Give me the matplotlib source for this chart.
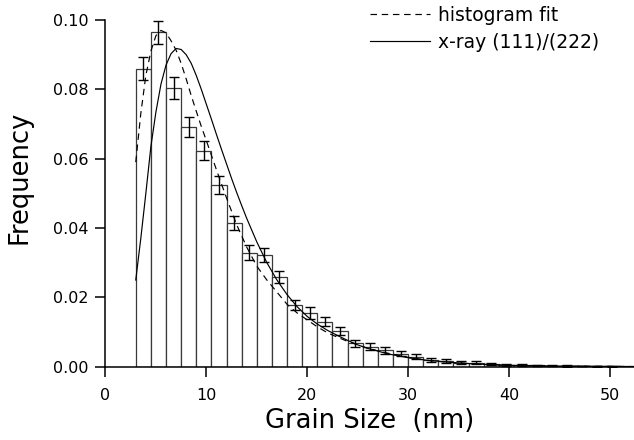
import numpy as np
import matplotlib
matplotlib.use("Agg")
from matplotlib import pyplot as plt

# histogram: bins of 1.5 nm starting at 3 nm
bin_start = 3.0
bin_width = 1.5
freq = [0.0860, 0.0965, 0.0803, 0.0692, 0.0623, 0.0524, 0.0414, 0.0329,
        0.0321, 0.0258, 0.0177, 0.0155, 0.0130, 0.0102, 0.0067, 0.0058,
        0.0048, 0.0037, 0.0029, 0.0019, 0.0017, 0.0012, 0.0011, 0.0008,
        0.0006, 0.0005, 0.0004, 0.0003, 0.0002, 0.0002, 0.0001, 0.0001]
freq_err = [0.0032, 0.0033, 0.0032, 0.0029, 0.0028, 0.0026, 0.0021, 0.0021,
            0.0020, 0.0018, 0.0014, 0.0016, 0.0012, 0.0012, 0.0009, 0.0009,
            0.0010, 0.0007, 0.0007, 0.0005, 0.0005, 0.0004, 0.0004, 0.0003,
            0.0003, 0.0003, 0.0002, 0.0002, 0.0002, 0.0001, 0.0001, 0.0001]

# dashed curve: histogram fit
fit_x = [3.0, 3.25, 3.5, 4.0, 4.5, 5.0, 5.5, 6.0, 6.5, 7.0, 7.5, 8.0, 8.5,
         9.0, 9.5, 10, 10.5, 11, 11.5, 12, 13, 14, 15, 16, 17, 18, 19, 20,
         21, 22, 23, 24, 25, 26, 28, 30, 32, 34, 36, 38, 40, 43, 46, 49, 52.4]
fit_y = [0.059, 0.066, 0.073, 0.084, 0.091, 0.0955, 0.097, 0.0963, 0.094,
         0.0913, 0.0875, 0.083, 0.0782, 0.0737, 0.0693, 0.0652, 0.061,
         0.0568, 0.0527, 0.0487, 0.041, 0.0345, 0.029, 0.025, 0.0215, 0.018,
         0.0155, 0.0135, 0.0115, 0.0098, 0.0085, 0.0073, 0.0063, 0.0053,
         0.0039, 0.0027, 0.0018, 0.0013, 0.0009, 0.0006, 0.0004, 0.00025,
         0.00015, 0.0001, 0.00005]

# solid curve: x-ray (111)/(222)
xray_x = [3.0, 3.5, 4.0, 4.5, 5.0, 5.5, 6.0, 6.5, 7.0, 7.5, 8.0, 8.5, 9.0,
          9.5, 10, 10.5, 11, 11.5, 12, 12.5, 13, 13.5, 14, 15, 16, 17, 18,
          19, 20, 21, 22, 23, 24, 25, 26, 28, 30, 32, 34, 36, 38, 40, 43,
          46, 49, 52.4]
xray_y = [0.025, 0.037, 0.050, 0.0635, 0.0735, 0.0815, 0.087, 0.0903,
          0.0918, 0.0915, 0.0900, 0.0875, 0.0840, 0.0800, 0.0757, 0.0714,
          0.0670, 0.0627, 0.0585, 0.0543, 0.0503, 0.0465, 0.0428, 0.0360,
          0.0300, 0.0250, 0.0208, 0.0173, 0.0145, 0.0123, 0.0105, 0.009,
          0.0076, 0.0063, 0.0053, 0.0037, 0.0026, 0.0018, 0.0013, 0.0009,
          0.0006, 0.0004, 0.00025, 0.00015, 0.0001, 0.00005]

plt.rcParams["font.family"] = ["DejaVu Sans"]

fig = plt.figure(figsize=(6.34, 4.40), dpi=100)
ax = fig.add_axes([0.1664, 0.1666, 0.8336, 0.7879])

centers = bin_start + bin_width * (np.arange(len(freq)) + 0.5)
ax.bar(centers, freq, width=bin_width, color="white", edgecolor="#3a3a3a",
       linewidth=0.9, zorder=1)
ax.plot(fit_x, fit_y, color="black", lw=0.85, dashes=(5.5, 4), zorder=2,
        label="histogram fit")
ax.plot(xray_x, xray_y, color="black", lw=0.85, zorder=2,
        label="x-ray (111)/(222)")
ax.errorbar(centers, freq, yerr=freq_err, fmt="none", ecolor="black",
            elinewidth=1.0, capsize=3.6, capthick=1.0, zorder=3)

ax.set_xlim(0, 52.4)
ax.set_ylim(0, 0.10)
ax.set_xticks([0, 10, 20, 30, 40, 50])
ax.set_yticks([0.0, 0.02, 0.04, 0.06, 0.08, 0.10])
ax.yaxis.set_major_formatter(matplotlib.ticker.FormatStrFormatter("%.2f"))

for s in ["top", "right"]:
    ax.spines[s].set_visible(False)
for s in ["left", "bottom"]:
    ax.spines[s].set_linewidth(1.1)
ax.tick_params(axis="both", length=7.2, width=1.1, labelsize=11.5)
ax.tick_params(axis="x", pad=8)
ax.tick_params(axis="y", pad=5)

ax.set_xlabel("Grain Size  (nm)", fontsize=18.5)
ax.set_ylabel("Frequency", fontsize=18.5)
ax.xaxis.set_label_coords(0.5, -0.118)
ax.yaxis.set_label_coords(-0.139, 0.547)

leg = ax.legend(loc="upper left", bbox_to_anchor=(370 / 634, 1 - 6 / 440),
                bbox_transform=fig.transFigure, frameon=False, fontsize=13.5,
                handlelength=3.2, handletextpad=0.45, labelspacing=0.4,
                borderpad=0, borderaxespad=0)

fig.savefig("out.png", dpi=100)
